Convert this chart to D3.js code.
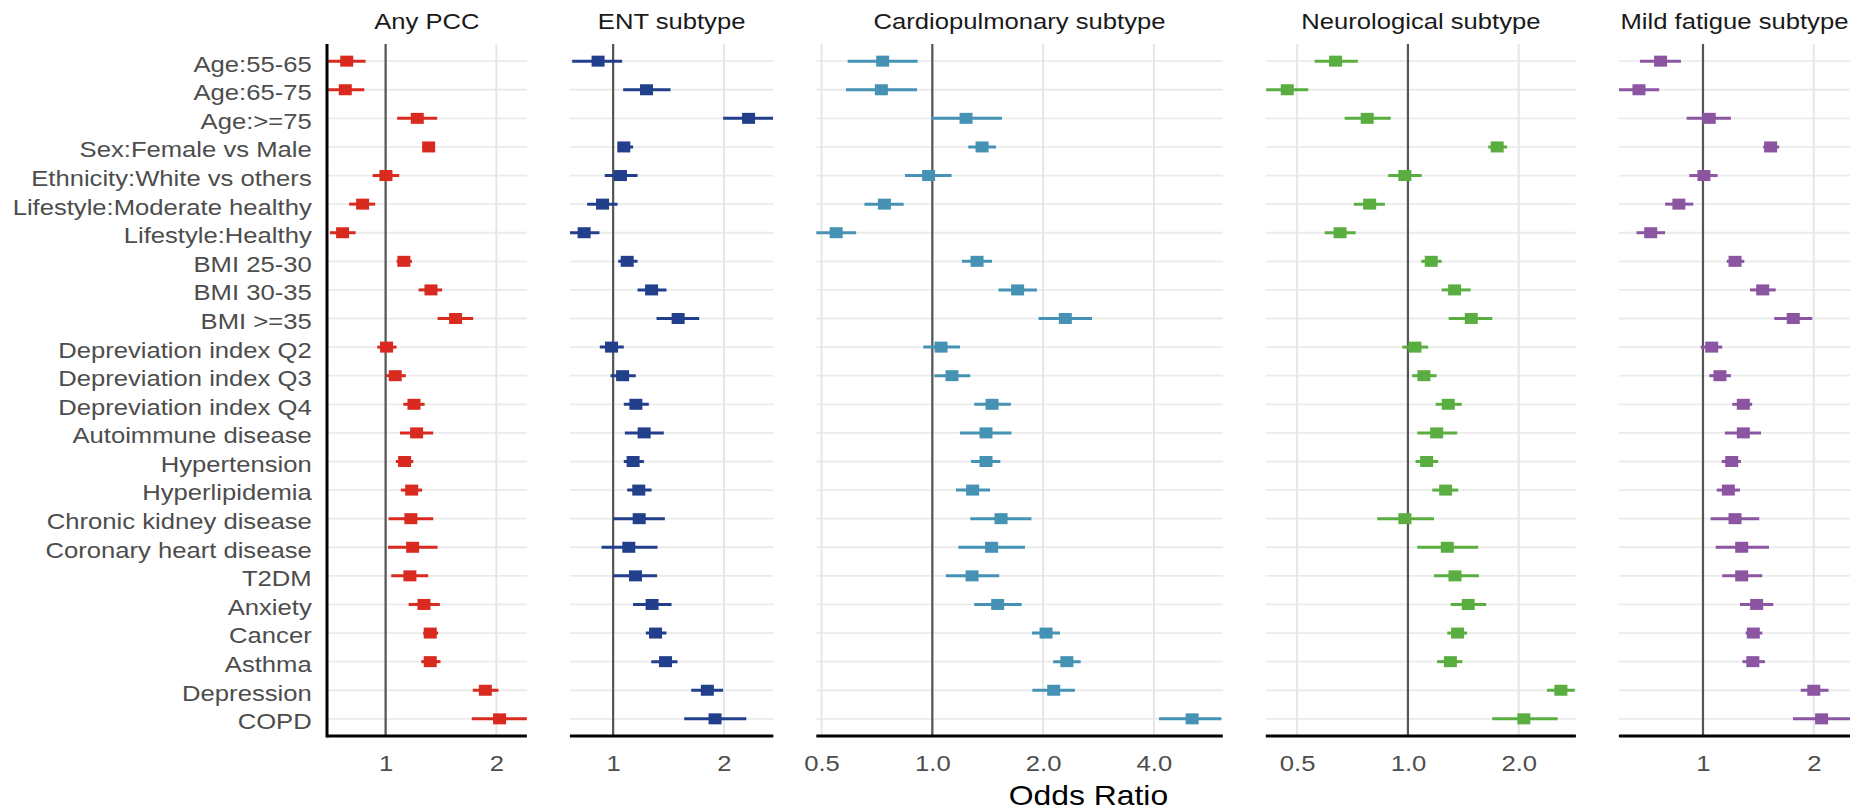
<!DOCTYPE html>
<html lang="en">
<head>
<meta charset="UTF-8">
<title>Odds ratios by PCC subtype</title>
<script src="https://cdn.jsdelivr.net/npm/d3@7"></script>
<style>
  body { margin: 0; background: #fff; }
  text { font-family: "Liberation Sans", Arial, sans-serif; }
</style>
</head>
<body>
<script>
const categories = [
  "Age:55-65", "Age:65-75", "Age:>=75", "Sex:Female vs Male", "Ethnicity:White vs others",
  "Lifestyle:Moderate healthy", "Lifestyle:Healthy", "BMI 25-30", "BMI 30-35", "BMI >=35",
  "Depreviation index Q2", "Depreviation index Q3", "Depreviation index Q4", "Autoimmune disease",
  "Hypertension", "Hyperlipidemia", "Chronic kidney disease", "Coronary heart disease", "T2DM",
  "Anxiety", "Cancer", "Asthma", "Depression", "COPD"
];

const panelTitles = ["Any PCC", "ENT subtype", "Cardiopulmonary subtype", "Neurological subtype", "Mild fatigue subtype"];

// [odds ratio, lower CI, upper CI] per category
const anyPcc = [
  [0.784, 0.698, 0.882], [0.777, 0.698, 0.875], [1.219, 1.075, 1.381], [1.309, 1.260, 1.361],
  [1.002, 0.922, 1.089], [0.866, 0.796, 0.937], [0.764, 0.706, 0.829], [1.121, 1.071, 1.179],
  [1.328, 1.229, 1.424], [1.549, 1.384, 1.730], [1.006, 0.949, 1.071], [1.062, 1.002, 1.135],
  [1.194, 1.117, 1.276], [1.214, 1.094, 1.347], [1.126, 1.066, 1.189], [1.177, 1.100, 1.257],
  [1.171, 1.019, 1.347], [1.184, 1.015, 1.384], [1.164, 1.036, 1.305], [1.271, 1.155, 1.404],
  [1.322, 1.265, 1.389], [1.322, 1.250, 1.410], [1.866, 1.725, 2.025], [2.040, 1.714, 2.420]
];
const ent = [
  [0.910, 0.774, 1.058], [1.232, 1.065, 1.432], [2.333, 1.990, 2.720], [1.069, 1.032, 1.133],
  [1.047, 0.949, 1.165], [0.936, 0.850, 1.028], [0.834, 0.763, 0.918], [1.092, 1.032, 1.165],
  [1.272, 1.165, 1.396], [1.502, 1.312, 1.713], [0.990, 0.920, 1.069], [1.061, 0.984, 1.152],
  [1.153, 1.069, 1.250], [1.214, 1.076, 1.373], [1.133, 1.069, 1.212], [1.174, 1.092, 1.272],
  [1.177, 1.000, 1.382], [1.103, 0.930, 1.320], [1.150, 1.000, 1.317], [1.276, 1.133, 1.441],
  [1.304, 1.227, 1.396], [1.388, 1.270, 1.496], [1.803, 1.630, 1.990], [1.892, 1.560, 2.300]
];
const cardio = [
  [0.733, 0.589, 0.912], [0.727, 0.583, 0.909], [1.235, 0.992, 1.546], [1.365, 1.252, 1.489],
  [0.977, 0.843, 1.128], [0.741, 0.654, 0.836], [0.548, 0.483, 0.621], [1.323, 1.204, 1.453],
  [1.705, 1.513, 1.924], [2.298, 1.944, 2.716], [1.056, 0.945, 1.189], [1.131, 1.013, 1.268],
  [1.453, 1.300, 1.635], [1.399, 1.189, 1.641], [1.399, 1.274, 1.530], [1.287, 1.160, 1.435],
  [1.537, 1.268, 1.859], [1.449, 1.177, 1.786], [1.282, 1.089, 1.520], [1.505, 1.300, 1.749],
  [2.037, 1.865, 2.222], [2.320, 2.130, 2.530], [2.137, 1.870, 2.440], [5.080, 4.130, 6.100]
];
const neuro = [
  [0.636, 0.558, 0.731], [0.470, 0.412, 0.536], [0.775, 0.673, 0.898], [1.748, 1.653, 1.859],
  [0.981, 0.884, 1.090], [0.787, 0.713, 0.866], [0.654, 0.594, 0.721], [1.157, 1.087, 1.235],
  [1.339, 1.235, 1.480], [1.486, 1.290, 1.695], [1.045, 0.965, 1.135], [1.105, 1.027, 1.196],
  [1.287, 1.189, 1.400], [1.197, 1.060, 1.361], [1.124, 1.049, 1.208], [1.266, 1.164, 1.370],
  [0.981, 0.825, 1.177], [1.279, 1.060, 1.552], [1.342, 1.177, 1.559], [1.458, 1.306, 1.632],
  [1.364, 1.279, 1.447], [1.304, 1.200, 1.405], [2.603, 2.387, 2.840], [2.065, 1.694, 2.552]
];
const fatigue = [
  [0.767, 0.674, 0.871], [0.670, 0.591, 0.760], [1.040, 0.903, 1.191], [1.527, 1.458, 1.611],
  [1.006, 0.918, 1.096], [0.860, 0.789, 0.941], [0.721, 0.660, 0.789], [1.222, 1.160, 1.295],
  [1.453, 1.342, 1.576], [1.759, 1.562, 1.981], [1.056, 0.986, 1.128], [1.112, 1.040, 1.191],
  [1.287, 1.201, 1.360], [1.287, 1.147, 1.438], [1.197, 1.124, 1.268], [1.172, 1.090, 1.260],
  [1.222, 1.049, 1.422], [1.274, 1.083, 1.511], [1.274, 1.128, 1.449], [1.399, 1.260, 1.552],
  [1.370, 1.306, 1.449], [1.366, 1.280, 1.473], [2.000, 1.843, 2.194], [2.100, 1.756, 2.508]
];

const panelTicks = [[1, 2], [1, 2], [0.5, 1, 2, 4], [0.5, 1, 2], [1, 2]];
const tickLabels = [["1", "2"], ["1", "2"], ["0.5", "1.0", "2.0", "4.0"], ["0.5", "1.0", "2.0"], ["1", "2"]];
const panelDomains = [[0.693, 2.42], [0.763, 2.724], [0.484, 6.155], [0.411, 2.86], [0.591, 2.508]];

const series = [anyPcc, ent, cardio, neuro, fatigue];
const colors = ["#d92a20", "#223f8c", "#4592b4", "#5aae41", "#8b55a1"];

const width = 1870;
const height = 812;
const marginLeft = 327;
const marginTop = 44;
const plotBottom = 736;
const pxPerDoubling = 110.8;
const gap = 43;
const stretch = 1.165; // the original's lettering is wider than Arial

const svg = d3.select("body")
  .append("svg")
  .attr("width", width)
  .attr("height", height);

const y = d3.scalePoint()
  .domain(categories)
  .range([marginTop, plotBottom])
  .padding(0.6);

let x0 = marginLeft;
let lastRight = 0;

series.forEach((data, p) => {
  const [lo, hi] = panelDomains[p];
  const w = pxPerDoubling * Math.log2(hi / lo);
  const x = d3.scaleLog().domain([lo, hi]).range([x0, x0 + w]);
  const g = svg.append("g");

  g.append("clipPath").attr("id", "clip" + p)
    .append("rect")
    .attr("x", x0).attr("y", marginTop)
    .attr("width", w).attr("height", plotBottom - marginTop);

  // grid
  g.selectAll(".hgrid")
    .data(categories)
    .join("line")
    .attr("x1", x0).attr("x2", x0 + w)
    .attr("y1", d => y(d)).attr("y2", d => y(d))
    .attr("stroke", "#ebebeb").attr("stroke-width", 1.8);

  g.selectAll(".vgrid")
    .data(panelTicks[p])
    .join("line")
    .attr("x1", d => x(d)).attr("x2", d => x(d))
    .attr("y1", marginTop).attr("y2", plotBottom)
    .attr("stroke", "#e6e6e6").attr("stroke-width", 2);

  // reference line at OR = 1
  g.append("line")
    .attr("x1", x(1)).attr("x2", x(1))
    .attr("y1", marginTop).attr("y2", plotBottom)
    .attr("stroke", "#555").attr("stroke-width", 2.2);

  const marks = g.append("g").attr("clip-path", `url(#clip${p})`);

  marks.selectAll(".ci")
    .data(data)
    .join("line")
    .attr("x1", d => x(d[1]))
    .attr("x2", d => x(d[2]))
    .attr("y1", (d, i) => y(categories[i]))
    .attr("y2", (d, i) => y(categories[i]))
    .attr("stroke", colors[p])
    .attr("stroke-width", 3);

  marks.selectAll(".pt")
    .data(data)
    .join("rect")
    .attr("x", d => x(d[0]) - 6.5)
    .attr("y", (d, i) => y(categories[i]) - 5.5)
    .attr("width", 13)
    .attr("height", 11)
    .attr("fill", colors[p]);

  // bottom axis
  const xAxis = g.append("g")
    .attr("transform", `translate(0,${plotBottom})`)
    .call(d3.axisBottom(x)
      .tickValues(panelTicks[p])
      .tickFormat((d, i) => tickLabels[p][i])
      .tickSize(0)
      .tickPadding(19));
  xAxis.select(".domain").remove();
  xAxis.selectAll("text")
    .attr("font-size", 22)
    .attr("fill", "#4d4d4d")
    .attr("font-family", "Liberation Sans, Arial, sans-serif")
    .attr("transform", `scale(${stretch},1)`);

  g.append("line")
    .attr("x1", x0).attr("x2", x0 + w)
    .attr("y1", plotBottom).attr("y2", plotBottom)
    .attr("stroke", "#000").attr("stroke-width", 3);

  if (p === 0) {
    const yAxis = g.append("g")
      .attr("transform", `translate(${x0},0)`)
      .call(d3.axisLeft(y).tickSize(0).tickPadding(0));
    yAxis.select(".domain").remove();
    yAxis.selectAll("text")
      .attr("font-size", 22)
      .attr("fill", "#4d4d4d")
      .attr("font-family", "Liberation Sans, Arial, sans-serif")
      .attr("x", -15.3 / stretch)
      .attr("dy", "0.45em")
      .attr("transform", `scale(${stretch},1)`);

    g.append("line")
      .attr("x1", x0).attr("x2", x0)
      .attr("y1", marginTop).attr("y2", plotBottom + 1.5)
      .attr("stroke", "#000").attr("stroke-width", 3);
  }

  // strip title
  g.append("text")
    .attr("transform", `translate(${x0 + w / 2},29) scale(${stretch},1)`)
    .attr("text-anchor", "middle")
    .attr("font-size", 22)
    .attr("fill", "#1a1a1a")
    .text(panelTitles[p]);

  lastRight = x0 + w;
  x0 += w + gap;
});

svg.append("text")
  .attr("transform", `translate(${(marginLeft + lastRight) / 2},805) scale(1.18,1)`)
  .attr("text-anchor", "middle")
  .attr("font-size", 27)
  .attr("fill", "#000")
  .text("Odds Ratio");
</script>
</body>
</html>
